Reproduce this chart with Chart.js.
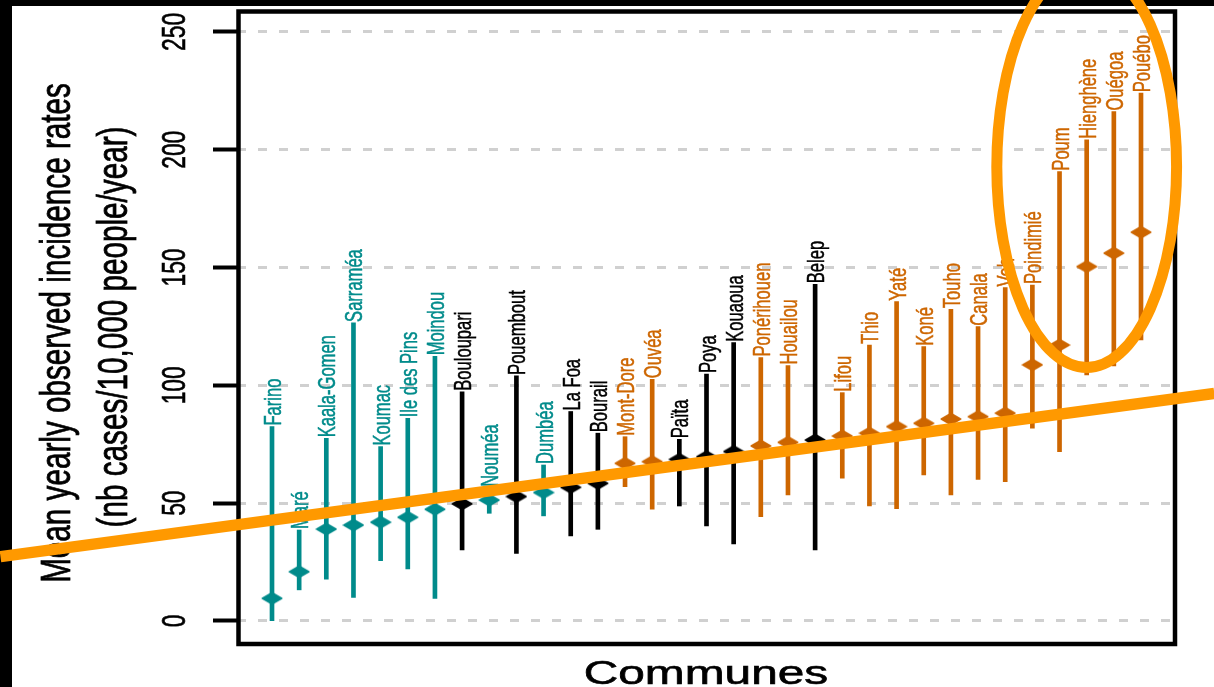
<!DOCTYPE html>
<html>
<head>
<meta charset="utf-8">
<script src="https://cdn.jsdelivr.net/npm/chart.js@4.4.1/dist/chart.umd.min.js"></script>
<style>
  html, body { margin: 0; padding: 0; background: #fff; overflow: hidden; }
  #wrap { width: 1214px; height: 687px; position: relative; }
  canvas { display: block; }
</style>
</head>
<body>
<div id="wrap"><canvas id="chart" width="1214" height="687"></canvas></div>
<script>
// Communes, ordered by mean yearly observed incidence rate
const communes = [
  'Farino', 'Maré', 'Kaala-Gomen', 'Sarraméa', 'Koumac', 'Ile des Pins', 'Moindou',
  'Bouloupari', 'Nouméa', 'Pouembout', 'Dumbéa', 'La Foa', 'Bourail', 'Mont-Dore',
  'Ouvéa', 'Païta', 'Poya', 'Kouaoua', 'Ponérihouen', 'Houailou', 'Belep', 'Lifou',
  'Thio', 'Yaté', 'Koné', 'Touho', 'Canala', 'Voh', 'Poindimié', 'Poum',
  'Hienghène', 'Ouégoa', 'Pouébo'
];
// Mean rate (nb cases / 10,000 people / year)
const meanRate = [
  9.6, 20.9, 39.0, 40.7, 41.9, 44.0, 47.4,
  49.7, 51.3, 52.8, 54.5, 56.7, 58.4, 66.9,
  67.6, 68.6, 69.7, 71.9, 74.3, 75.8, 76.8, 78.5,
  79.7, 82.5, 83.9, 85.7, 86.7, 88.2, 108.7, 117.1,
  150.4, 156.1, 165.0
];
// Lower bound of the yearly range
const lowerRate = [
  0.1, 13.2, 17.7, 10.0, 25.6, 22.1, 9.6,
  30.1, 45.7, 28.7, 44.6, 36.1, 38.9, 57.0,
  47.4, 48.8, 40.3, 32.7, 44.3, 53.5, 30.1, 60.6,
  48.8, 47.7, 62.0, 53.5, 60.1, 59.1, 81.8, 71.9,
  104.4, 108.2, 119.3
];
// Upper bound of the yearly range
const upperRate = [
  82.5, 38.6, 77.5, 126.5, 74.0, 86.0, 112.3,
  97.3, 56.5, 104.0, 66.2, 88.9, 79.7, 78.2,
  102.6, 77.1, 104.8, 118.1, 111.8, 108.4, 142.9, 96.9,
  117.1, 135.5, 116.4, 132.3, 124.9, 141.5, 142.6, 190.7,
  204.2, 216.2, 224.0
];
// Colour class of each commune
const group = [
  'cyan', 'cyan', 'cyan', 'cyan', 'cyan', 'cyan', 'cyan',
  'black', 'cyan', 'black', 'cyan', 'black', 'black', 'orange',
  'orange', 'black', 'black', 'black', 'orange', 'orange', 'black', 'orange',
  'orange', 'orange', 'orange', 'orange', 'orange', 'orange', 'orange', 'orange',
  'orange', 'orange', 'orange'
];
const yTicks = [0, 50, 100, 150, 200, 250];
const yTickLabels = ['0', '50', '100', '150', '200', '250'];
const yTitleLines = ['Mean yearly observed incidence rates', '(nb cases/10,000 people/year)'];
const xTitle = 'Communes';

// Highlight overlay, in data units (commune index, rate)
const trendLine = [[-10.0, 27.3], [34.7, 96.6]];
const highlight = { x: 30.0, y: 192.8, rx: 3.31, ry: 85.2 };

const palette = { cyan: '#008B8B', black: '#000000', orange: '#CD6600' };
const FONT = '"Liberation Sans", Arial, Helvetica, sans-serif';
const SQUEEZE = 0.69;

function diamond(color) {
  const c = document.createElement('canvas');
  c.width = 22; c.height = 14;
  const g = c.getContext('2d');
  g.fillStyle = color; g.strokeStyle = color;
  g.lineWidth = 2; g.lineJoin = 'round';
  g.beginPath();
  g.moveTo(1.5, 7); g.lineTo(11, 1.5); g.lineTo(20.5, 7); g.lineTo(11, 12.5);
  g.closePath(); g.fill(); g.stroke();
  return c;
}
const markers = { cyan: diamond(palette.cyan), black: diamond(palette.black), orange: diamond(palette.orange) };

function rotatedText(ctx, text, x, y, size, align, weight) {
  ctx.save();
  ctx.translate(x, y);
  ctx.rotate(-Math.PI / 2);
  ctx.scale(SQUEEZE, 1);
  ctx.font = size + 'px ' + FONT;
  ctx.textAlign = align;
  ctx.textBaseline = 'alphabetic';
  ctx.fillText(text, 0, 0);
  if (weight) {
    ctx.strokeStyle = ctx.fillStyle;
    ctx.lineWidth = weight;
    ctx.strokeText(text, 0, 0);
  }
  ctx.restore();
}

const frame = {
  id: 'frame',
  beforeDraw(chart) {
    const ctx = chart.ctx;
    ctx.save();
    ctx.fillStyle = '#ffffff';
    ctx.fillRect(0, 0, chart.width, chart.height);
    ctx.fillStyle = '#000000';
    ctx.fillRect(0, 0, chart.width, 6);
    ctx.fillRect(0, 0, 12, chart.height);
    ctx.restore();
  },
  afterDatasetsDraw(chart) {
    const ctx = chart.ctx, xs = chart.scales.x, ys = chart.scales.y, ca = chart.chartArea;
    // commune names above each range
    communes.forEach((name, i) => {
      ctx.fillStyle = palette[group[i]];
      rotatedText(ctx, name, xs.getPixelForValue(i) + 9, ys.getPixelForValue(upperRate[i]) - 1, 24, 'left', 0.5);
    });
    // plot frame
    ctx.save();
    ctx.strokeStyle = '#000';
    ctx.lineWidth = 4.5;
    ctx.strokeRect(ca.left + 1.5, ca.top + 1.5, ca.right - ca.left - 1.5, ca.bottom - ca.top - 2.5);
    ctx.restore();
    // y tick labels
    ctx.fillStyle = '#000';
    yTicks.forEach((v, k) => rotatedText(ctx, yTickLabels[k], 185, ys.getPixelForValue(v), 33, 'center', 0.6));
    // axis titles
    rotatedText(ctx, yTitleLines[0], 70, 333, 43, 'center', 0.8);
    rotatedText(ctx, yTitleLines[1], 127, 327, 43, 'center', 0.8);
    ctx.save();
    ctx.translate((ca.left + ca.right) / 2, 684);
    ctx.scale(1 / SQUEEZE, 1);
    ctx.font = '33px ' + FONT;
    ctx.textAlign = 'center';
    ctx.textBaseline = 'alphabetic';
    ctx.fillText(xTitle, 0, 0);
    ctx.strokeStyle = '#000';
    ctx.lineWidth = 0.6;
    ctx.strokeText(xTitle, 0, 0);
    ctx.restore();
  },
  afterDraw(chart) {
    const ctx = chart.ctx, xs = chart.scales.x, ys = chart.scales.y;
    ctx.save();
    ctx.strokeStyle = '#FF9900';
    ctx.lineWidth = 11.5;
    ctx.beginPath();
    ctx.moveTo(xs.getPixelForValue(trendLine[0][0]), ys.getPixelForValue(trendLine[0][1]));
    ctx.lineTo(xs.getPixelForValue(trendLine[1][0]), ys.getPixelForValue(trendLine[1][1]));
    ctx.stroke();
    const cx = xs.getPixelForValue(highlight.x), cy = ys.getPixelForValue(highlight.y);
    const rx = Math.abs(xs.getPixelForValue(highlight.x + highlight.rx) - cx);
    const ry = Math.abs(ys.getPixelForValue(highlight.y + highlight.ry) - cy);
    ctx.lineWidth = 11;
    ctx.beginPath();
    ctx.ellipse(cx, cy, rx, ry, 0, 0, Math.PI * 2);
    ctx.stroke();
    ctx.restore();
  }
};

new Chart(document.getElementById('chart'), {
  type: 'bar',
  data: {
    datasets: [
      {
        type: 'scatter',
        order: 0,
        data: communes.map((_, i) => ({ x: i, y: meanRate[i] })),
        pointStyle: group.map(g => markers[g]),
        pointRadius: 8,
        pointHoverRadius: 8
      },
      {
        type: 'bar',
        order: 1,
        data: communes.map((_, i) => ({ x: i, y: [lowerRate[i], upperRate[i]] })),
        backgroundColor: group.map(g => palette[g]),
        borderWidth: 0,
        barThickness: 4
      }
    ]
  },
  options: {
    responsive: false,
    animation: false,
    events: [],
    devicePixelRatio: 1,
    layout: { padding: { left: 213, right: 39, top: 10, bottom: 42 } },
    plugins: { legend: { display: false }, tooltip: { enabled: false } },
    scales: {
      x: {
        type: 'linear',
        display: false,
        min: -1.289,
        max: 33.252,
        offset: false
      },
      y: {
        type: 'linear',
        min: -10.2,
        max: 259.3,
        afterBuildTicks: s => { s.ticks = yTicks.map(v => ({ value: v })); },
        afterFit: s => { s.width = 24; },
        ticks: { display: false },
        border: { display: false, dash: [9, 12] },
        grid: {
          color: '#d0d0d0',
          lineWidth: 3,
          tickLength: 24,
          tickColor: '#000',
          tickWidth: 4,
          drawTicks: true
        }
      }
    }
  },
  plugins: [frame]
});
</script>
</body>
</html>
